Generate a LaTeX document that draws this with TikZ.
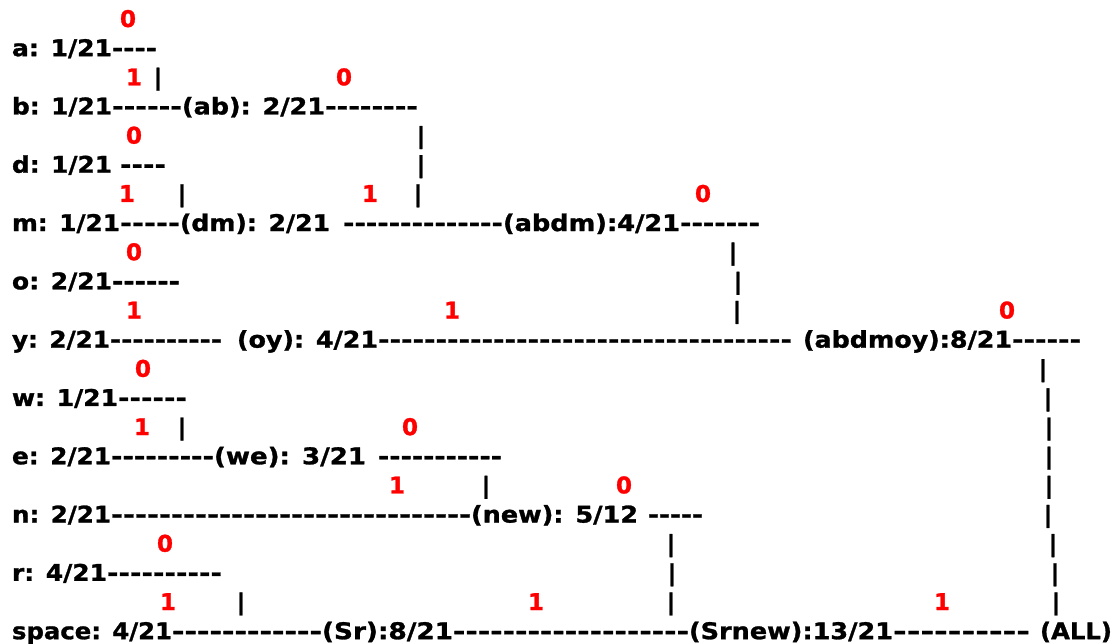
\documentclass[tikz,border=0pt]{standalone}
\usepackage{fontspec}
\setmainfont{DejaVu Sans}[Ligatures=TeXOff, BoldFeatures={FakeBold=1.2}]
\usepackage{graphicx}
% stretch a piece of text horizontally to a given width, keeping its height
\newcommand{\fitw}[2]{\resizebox{#1pt}{\height}{#2}}
\begin{document}
\begin{tikzpicture}[x=1pt,y=-1pt,
  txt/.style={font=\fontsize{23}{26}\selectfont\bfseries, inner sep=0pt, outer sep=0pt},
  row/.style={txt, anchor=base west},
  bit/.style={txt, anchor=base, text=red},
  bar/.style={txt, anchor=base}]
\useasboundingbox (0,0) rectangle (1115,644);

% ---- rows of the code tree: labels and dash runs ----
% a
\node[row] (a1) at (12,56.15) {\fitw{100}{a: 1/21}};
\node[row] (a2) at (112,56.15) {\fitw{45}{----}};
% b
\node[row] (b1) at (12,114.45) {\fitw{100}{b: 1/21}};
\node[row] (b2) at (112,114.45) {\fitw{70}{------}};
\node[row] (b3) at (182,114.45) {\fitw{143}{(ab): 2/21}};
\node[row] (b4) at (325,114.45) {\fitw{93}{--------}};
% d
\node[row] (d1) at (12,172.75) {\fitw{100}{d: 1/21}};
\node[row] (d2) at (120,172.75) {\fitw{46}{----}};
% m
\node[row] (m1) at (12,231.05) {\fitw{108}{m: 1/21}};
\node[row] (m2) at (120,231.05) {\fitw{60}{-----}};
\node[row] (m3) at (180,231.05) {\fitw{150}{(dm): 2/21}};
\node[row] (m4) at (343,231.05) {\fitw{160}{--------------}};
\node[row] (m5) at (503,231.05) {\fitw{177}{(abdm):4/21}};
\node[row] (m6) at (680,231.05) {\fitw{80}{-------}};
% o
\node[row] (o1) at (12,289.35) {\fitw{100}{o: 2/21}};
\node[row] (o2) at (112,289.35) {\fitw{68}{------}};
% y
\node[row] (y1) at (12,347.65) {\fitw{98}{y: 2/21}};
\node[row] (y2) at (110,347.65) {\fitw{112}{----------}};
\node[row] (y3) at (237,347.65) {\fitw{141}{(oy): 4/21}};
\node[row] (y4) at (378,347.65) {\fitw{414}{------------------------------------}};
\node[row] (y5) at (803,347.65) {\fitw{209}{(abdmoy):8/21}};
\node[row] (y6) at (1012,347.65) {\fitw{69}{------}};
% w
\node[row] (w1) at (12,405.95) {\fitw{106}{w: 1/21}};
\node[row] (w2) at (118,405.95) {\fitw{69}{------}};
% e
\node[row] (e1) at (12,464.25) {\fitw{99}{e: 2/21}};
\node[row] (e2) at (111,464.25) {\fitw{103}{---------}};
\node[row] (e3) at (214,464.25) {\fitw{152}{(we): 3/21}};
\node[row] (e4) at (378,464.25) {\fitw{124}{-----------}};
% n
\node[row] (n1) at (12,522.55) {\fitw{99}{n: 2/21}};
\node[row] (n2) at (111,522.55) {\fitw{360}{------------------------------}};
\node[row] (n3) at (471,522.55) {\fitw{167}{(new): 5/12}};
\node[row] (n4) at (648,522.55) {\fitw{55}{-----}};
% r
\node[row] (r1) at (12,580.85) {\fitw{95}{r: 4/21}};
\node[row] (r2) at (107,580.85) {\fitw{115}{----------}};
% space
\node[row] (s1) at (12,639.15) {\fitw{160}{space: 4/21}};
\node[row] (s2) at (172,639.15) {\fitw{150}{------------}};
\node[row] (s3) at (322,639.15) {\fitw{131}{(Sr):8/21}};
\node[row] (s4) at (453,639.15) {\fitw{236}{-------------------}};
\node[row] (s5) at (689,639.15) {\fitw{204}{(Srnew):13/21}};
\node[row] (s6) at (893,639.15) {\fitw{137}{----------}};
\node[row] (s7) at (1040,639.15) {\fitw{72}{(ALL)}};

% ---- branch bits ----
\node[bit] (z0)  at (128,27)    {0};
\node[bit] (z2a) at (134,85.3)  {1};
\node[bit] (z2b) at (344,85.3)  {0};
\node[bit] (z4)  at (134,143.6) {0};
\node[bit] (z6a) at (127,201.9) {1};
\node[bit] (z6b) at (370,201.9) {1};
\node[bit] (z6c) at (703,201.9) {0};
\node[bit] (z8)  at (134,260.2) {0};
\node[bit] (z10a) at (134,318.5) {1};
\node[bit] (z10b) at (452,318.5) {1};
\node[bit] (z10c) at (1007,318.5) {0};
\node[bit] (z12) at (143,376.8) {0};
\node[bit] (z14a) at (142,435.1) {1};
\node[bit] (z14b) at (410,435.1) {0};
\node[bit] (z16a) at (397,493.4) {1};
\node[bit] (z16b) at (624,493.4) {0};
\node[bit] (z18) at (165,551.7) {0};
\node[bit] (z20a) at (168,610) {1};
\node[bit] (z20b) at (536,610) {1};
\node[bit] (z20c) at (942,610) {1};

% ---- vertical joins ----
\node[bar] (v2)   at (158,85.3)  {|};
\node[bar] (v4)   at (421,143.6) {|};
\node[bar] (v5)   at (421,172.75) {|};
\node[bar] (v6a)  at (182,201.9) {|};
\node[bar] (v6b)  at (418,201.9) {|};
\node[bar] (v8)   at (733,260.2) {|};
\node[bar] (v9)   at (738,289.35) {|};
\node[bar] (v10)  at (737,318.5) {|};
\node[bar] (v12)  at (1043,376.8) {|};
\node[bar] (v13)  at (1048,405.95) {|};
\node[bar] (v14a) at (182,435.1) {|};
\node[bar] (v14b) at (1049,435.1) {|};
\node[bar] (v15)  at (1049,464.25) {|};
\node[bar] (v16a) at (486,493.4) {|};
\node[bar] (v16b) at (1049,493.4) {|};
\node[bar] (v17)  at (1048,522.55) {|};
\node[bar] (v18a) at (671,551.7) {|};
\node[bar] (v18b) at (1053,551.7) {|};
\node[bar] (v19a) at (672,580.85) {|};
\node[bar] (v19b) at (1055,580.85) {|};
\node[bar] (v20a) at (241,610) {|};
\node[bar] (v20b) at (671,610) {|};
\node[bar] (v20c) at (1056,610) {|};
\end{tikzpicture}
\end{document}
